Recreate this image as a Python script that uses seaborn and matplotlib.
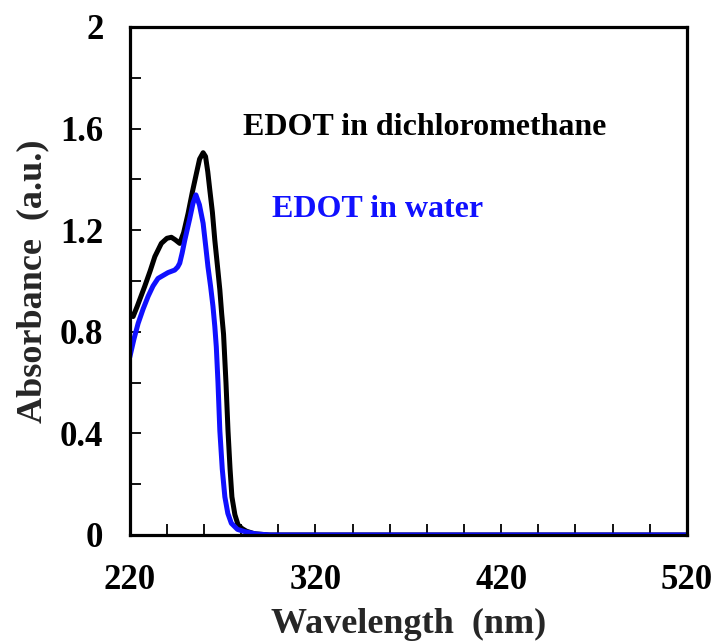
import numpy as np
import pandas as pd
import matplotlib
matplotlib.use('Agg')
import matplotlib.pyplot as plt
import seaborn as sns

# absorbance spectra
wl_dcm = [220, 221.8, 224, 228, 231, 233.5, 237, 240, 242.4, 244.5, 246.9, 249, 251.4,
          253.7, 255.9, 257.6, 259.5, 260.8, 262, 263.1, 264.5, 265.8, 267.2, 268.5,
          269.5, 270.5, 271.8, 272.9, 274, 275, 276.6, 278.3, 280.5, 282.8, 287, 295, 520]
abs_dcm = [0.875, 0.86, 0.9, 0.978, 1.04, 1.096, 1.148, 1.168, 1.172, 1.162, 1.148, 1.19,
           1.266, 1.35, 1.424, 1.48, 1.505, 1.49, 1.43, 1.358, 1.27, 1.16, 1.06, 0.965,
           0.87, 0.79, 0.60, 0.41, 0.26, 0.15, 0.08, 0.04, 0.025, 0.015, 0.005, 0.0, 0.0]

wl_water = [220, 222.2, 224.5, 227.2, 229.9, 232.5, 235.2, 240.6, 244.2, 245.8, 246.9,
            248.2, 249.6, 252.3, 254, 255.6, 257.5, 259.5, 261, 262.1, 263.5, 264.8, 265.8,
            266.6, 267.5, 268.5, 269.8, 271.2, 272.8, 274.7, 278, 282, 288, 296, 520]
abs_water = [0.70, 0.77, 0.833, 0.89, 0.94, 0.98, 1.01, 1.033, 1.043, 1.055, 1.07, 1.11,
             1.16, 1.246, 1.305, 1.339, 1.30, 1.227, 1.13, 1.056, 0.98, 0.90, 0.82, 0.74,
             0.60, 0.41, 0.26, 0.15, 0.085, 0.046, 0.022, 0.013, 0.004, 0.0, 0.0]

x_major = [220, 320, 420, 520]
y_major = [0, 0.4, 0.8, 1.2, 1.6, 2]
y_labels = ['0', '0.4', '0.8', '1.2', '1.6', '2']

sns.set_theme(style='white')
plt.rcParams['font.family'] = ['Liberation Serif', 'DejaVu Serif']
plt.rcParams['font.weight'] = 'bold'

fig = plt.figure(figsize=(7.17, 6.42), dpi=100)
ax = fig.add_axes([0.181, 0.1667, 0.777, 0.7913])

sns.lineplot(x=wl_dcm, y=abs_dcm, color='black', linewidth=3.6, ax=ax,
             solid_joinstyle='round', solid_capstyle='round')
sns.lineplot(x=wl_water, y=abs_water, color='#1010ff', linewidth=3.6, ax=ax,
             solid_joinstyle='round', solid_capstyle='round')

ax.set_xlim(220, 520)
ax.set_ylim(0, 2)
ax.set_xticks(x_major)
ax.set_xticks(np.arange(220, 521, 20), minor=True)
ax.set_yticks(y_major)
ax.set_yticklabels(y_labels)
ax.set_yticks(np.arange(0, 2.01, 0.2), minor=True)

ax.tick_params(which='both', direction='in', bottom=True, left=True, top=False, right=False,
               width=1.3, colors='black')
ax.tick_params(which='major', length=8, labelsize=25)
ax.tick_params(which='minor', length=8)
ax.tick_params(axis='x', which='major', pad=21)
ax.tick_params(axis='y', which='major', pad=19)
for lab in ax.get_xticklabels() + ax.get_yticklabels():
    lab.set_fontweight('bold')

for s in ax.spines.values():
    s.set_color('black')
    s.set_linewidth(2.3)

ax.set_xlabel('Wavelength  (nm)', fontsize=26, fontweight='bold', labelpad=8)
ax.set_ylabel('Absorbance  (a.u.)', fontsize=26, fontweight='bold', labelpad=8)

ax.text(281, 1.605, 'EDOT in dichloromethane', fontsize=23, fontweight='bold',
        color='black', va='center', ha='left')
ax.text(296.5, 1.28, 'EDOT in water', fontsize=23, fontweight='bold',
        color='#1010ff', va='center', ha='left')

fig.savefig('out.png', dpi=100)
